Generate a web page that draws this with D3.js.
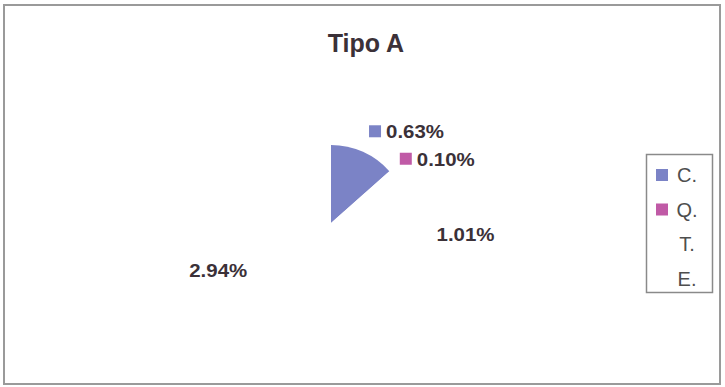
<!DOCTYPE html>
<html><head><meta charset="utf-8">
<script src="https://cdn.jsdelivr.net/npm/d3@7"></script>
<style>body{margin:0;background:#fff}</style>
</head><body>
<script>
const categories = ["C.", "Q.", "T.", "E."];
const values = [0.63, 0.10, 1.01, 2.94];
const labels = ["0.63%", "0.10%", "1.01%", "2.94%"];
const title = "Tipo A";

const legendColors = ["#7b83c6", "#c05aa6", "none", "none"];
const sliceColors = ["#7b83c6", "#ffffff", "#ffffff", "#ffffff"];
const showKey = [true, true, false, false];
const labelNudge = [[23, 25], [5, 14], [7, 0], [5, -3]];

const W = 725, H = 387;
const svg = d3.select("body").append("svg").attr("width", W).attr("height", H)
  .style("font-family", "'Liberation Sans', Arial, sans-serif");

svg.append("rect").attr("x", 4).attr("y", 5).attr("width", 716).attr("height", 379)
  .attr("fill", "#fff").attr("stroke", "#9a9a9a").attr("stroke-width", 2);

svg.append("text").attr("x", 366).attr("y", 52).attr("text-anchor", "middle")
  .attr("font-size", 25).attr("font-weight", "bold").attr("fill", "#3b3138").text(title);

const cx = 331, cy = 223, R = 78;
const pie = d3.pie().sort(null).value(d => d);
const arcs = pie(values);
const arc = d3.arc().innerRadius(0).outerRadius(R);
const labelArc = d3.arc().innerRadius(128).outerRadius(128);

const g = svg.append("g").attr("transform", `translate(${cx},${cy})`);
g.selectAll("path").data(arcs).join("path")
  .attr("d", arc).attr("fill", (d, i) => sliceColors[i]);

const lg = g.selectAll("g.lbl").data(arcs).join("g").attr("class", "lbl")
  .attr("transform", (d, i) => {
    const c = labelArc.centroid(d);
    return `translate(${c[0] + labelNudge[i][0]},${c[1] + labelNudge[i][1]})`;
  });
lg.each(function(d, i) {
  const el = d3.select(this);
  const key = showKey[i];
  const tw = 58;
  const total = key ? tw + 17 : tw;
  if (key) {
    el.append("rect").attr("x", -total / 2).attr("y", -6).attr("width", 12).attr("height", 12)
      .attr("fill", legendColors[i]);
  }
  el.append("text").attr("x", -total / 2 + (key ? 17 : 0)).attr("y", 7)
    .attr("textLength", tw).attr("lengthAdjust", "spacingAndGlyphs")
    .attr("font-size", 19).attr("font-weight", "bold").attr("fill", "#3b3138").text(labels[i]);
});

const leg = svg.append("g").attr("transform", "translate(646,154)");
leg.append("rect").attr("x", 0.5).attr("y", 0.5).attr("width", 66).attr("height", 138)
  .attr("fill", "#fff").attr("stroke", "#8a8a8a").attr("stroke-width", 1.5);
const le = leg.selectAll("g.it").data(categories).join("g").attr("class", "it")
  .attr("transform", (d, i) => `translate(0,${21 + i * 34.5})`);
le.filter((d, i) => legendColors[i] !== "none").append("rect")
  .attr("x", 10).attr("y", -6).attr("width", 12).attr("height", 12)
  .attr("fill", (d, i) => legendColors[categories.indexOf(d)]);
le.append("text").attr("x", 41).attr("y", 7).attr("text-anchor", "middle")
  .attr("font-size", 20).attr("fill", "#4e4e4e").text(d => d);
</script>
</body></html>
